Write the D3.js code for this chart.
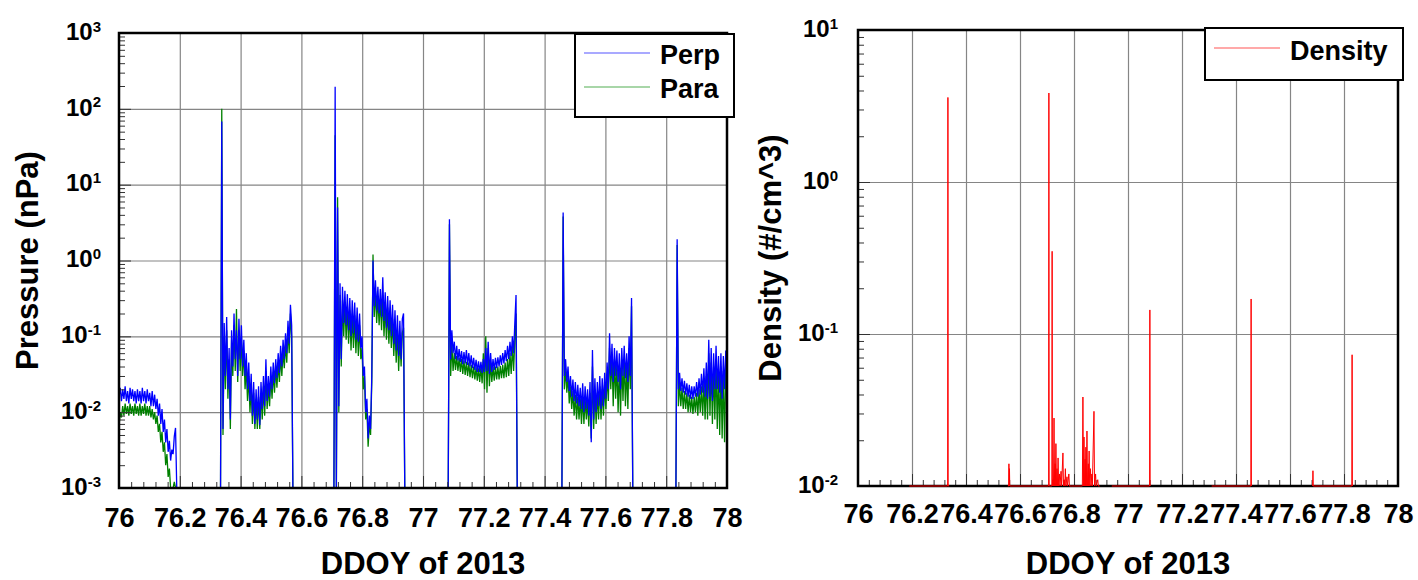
<!DOCTYPE html>
<html>
<head>
<meta charset="utf-8">
<script src="https://cdn.jsdelivr.net/npm/d3@7"></script>
<style>
  body { margin: 0; background: #fff; }
  svg { font-family: "Liberation Sans", Arial, sans-serif; font-weight: bold; }
  .grid line { stroke: #858585; stroke-width: 1.2; }
  .grid path, .ticks path, .labels path, .labels line { display: none; }
  .ticks line { stroke: #333; stroke-width: 1; }
  .xlab text { font-size: 27px; font-family: "Liberation Sans", Arial, sans-serif; }
  .ylab text { font-size: 24px; font-family: "Liberation Sans", Arial, sans-serif; }
</style>
</head>
<body>
<svg id="chart" width="1418" height="580"></svg>
<script>
// tick labels
const xTickLabels = ["76", "76.2", "76.4", "76.6", "76.8", "77", "77.2", "77.4", "77.6", "77.8", "78"];
const pressDecades = [1e-3, 1e-2, 1e-1, 1, 10, 100, 1000];
const densDecades = [1e-2, 1e-1, 1, 10];

// pressure data: six sampled intervals (day of year), evenly sampled inside each
const segStart = [76.000, 76.334, 76.707, 77.083, 77.457, 77.832];
const segEnd   = [76.190, 76.572, 76.940, 77.310, 77.690, 78.000];

// Perp pressure (nPa), 0 = no data / below range
const perp = [
  [0.016, 0.021, 0.014, 0.020, 0.015, 0.022, 0.014, 0.019, 0.013, 0.021, 0.015, 0.020, 0.014, 0.019, 0.013, 0.020,
   0.014, 0.019, 0.013, 0.021, 0.014, 0.019, 0.013, 0.020, 0.014, 0.018, 0.012, 0.019, 0.012, 0.017, 0.011, 0.015,
   0.009, 0.013, 0.007, 0.011, 0.0055, 0.008, 0.004, 0.006, 0.003, 0.0042, 0.0023, 0.0032, 0.0028, 0.0048, 0.0062, 0],
  [0, 68, 0.006, 0.15, 0.03, 0.18, 0.02, 0.07, 0.008, 0.12, 0.04, 0.2, 0.05, 0.12, 0.03, 0.17,
   0.05, 0.14, 0.04, 0.09, 0.03, 0.06, 0.02, 0.045, 0.014, 0.032, 0.009, 0.025, 0.007, 0.02, 0.008, 0.022,
   0.0068, 0.025, 0.011, 0.03, 0.012, 0.05, 0.014, 0.03, 0.016, 0.04, 0.02, 0.045, 0.024, 0.05, 0.028, 0.06,
   0.033, 0.075, 0.04, 0.09, 0.05, 0.11, 0.06, 0.16, 0.08, 0.26, 0.14, 0],
  [0, 195, 0, 5, 0.012, 0.5, 0.05, 0.45, 0.15, 0.4, 0.14, 0.36, 0.12, 0.32, 0.1, 0.3,
   0.11, 0.28, 0.09, 0.24, 0.085, 0.2, 0.07, 0.1, 0.03, 0.04, 0.01, 0.015, 0.0045, 0.009, 0.006, 0.03,
   1.0, 0.25, 0.55, 0.22, 0.45, 0.2, 0.42, 0.18, 0.6, 0.16, 0.38, 0.13, 0.34, 0.12, 0.3, 0.1,
   0.26, 0.08, 0.22, 0.065, 0.19, 0.055, 0.16, 0.05, 0.17, 0.2, 0],
  [0, 3.5, 0.05, 0.12, 0.06, 0.085, 0.05, 0.075, 0.048, 0.068, 0.046, 0.064, 0.043, 0.062, 0.044, 0.066,
   0.042, 0.06, 0.04, 0.056, 0.038, 0.052, 0.036, 0.049, 0.034, 0.047, 0.034, 0.046, 0.033, 0.05, 0.034, 0.07,
   0.035, 0.085, 0.032, 0.06, 0.034, 0.05, 0.036, 0.052, 0.038, 0.053, 0.04, 0.056, 0.042, 0.06, 0.044, 0.066,
   0.047, 0.075, 0.05, 0.085, 0.055, 0.1, 0.06, 0.15, 0.35, 0],
  [0, 4.3, 0.03, 0.05, 0.025, 0.04, 0.019, 0.03, 0.016, 0.027, 0.014, 0.025, 0.013, 0.023, 0.012, 0.021,
   0.011, 0.024, 0.01, 0.022, 0.011, 0.02, 0.009, 0.025, 0.004, 0.066, 0.008, 0.028, 0.01, 0.025, 0.012, 0.03,
   0.011, 0.028, 0.012, 0.033, 0.015, 0.045, 0.02, 0.11, 0.03, 0.08, 0.025, 0.07, 0.03, 0.065, 0.025, 0.06,
   0.02, 0.07, 0.03, 0.075, 0.028, 0.06, 0.025, 0.1, 0.03, 0.32, 0],
  [0, 1.9, 0.02, 0.033, 0.019, 0.028, 0.018, 0.026, 0.017, 0.024, 0.016, 0.023, 0.015, 0.022, 0.015, 0.022,
   0.016, 0.025, 0.016, 0.028, 0.017, 0.032, 0.018, 0.038, 0.016, 0.045, 0.015, 0.09, 0.016, 0.07, 0.014, 0.06,
   0.02, 0.075, 0.02, 0.055, 0.018, 0.06, 0.015, 0.055, 0.02, 0.065, 0.03]
];

// Para pressure (nPa)
const para = [
  [0.0065, 0.010, 0.0085, 0.012, 0.009, 0.013, 0.0095, 0.012, 0.009, 0.013, 0.0095, 0.012, 0.009, 0.013, 0.0095, 0.012,
   0.009, 0.013, 0.009, 0.012, 0.0095, 0.013, 0.009, 0.012, 0.009, 0.012, 0.0085, 0.011, 0.008, 0.010, 0.007, 0.009,
   0.0055, 0.007, 0.004, 0.0055, 0.003, 0.004, 0.002, 0.0028, 0.0014, 0.0018, 0.0009, 0.0008, 0.0009, 0.0012, 0.0008, 0],
  [0, 100, 0.005, 0.1, 0.02, 0.12, 0.015, 0.05, 0.006, 0.09, 0.03, 0.14, 0.035, 0.23, 0.025, 0.12,
   0.035, 0.1, 0.03, 0.065, 0.02, 0.04, 0.014, 0.03, 0.01, 0.022, 0.007, 0.018, 0.006, 0.015, 0.006, 0.016,
   0.006, 0.018, 0.008, 0.022, 0.009, 0.035, 0.011, 0.022, 0.012, 0.03, 0.015, 0.034, 0.018, 0.038, 0.021, 0.045,
   0.025, 0.055, 0.03, 0.065, 0.038, 0.08, 0.045, 0.12, 0.06, 0.2, 0.1, 0],
  [0, 45, 0, 6.8, 0.01, 0.35, 0.04, 0.3, 0.1, 0.28, 0.09, 0.25, 0.08, 0.22, 0.065, 0.2,
   0.07, 0.19, 0.06, 0.16, 0.055, 0.14, 0.05, 0.07, 0.02, 0.03, 0.008, 0.011, 0.0035, 0.007, 0.005, 0.025,
   1.2, 0.18, 0.4, 0.15, 0.32, 0.14, 0.3, 0.12, 0.35, 0.1, 0.26, 0.09, 0.24, 0.08, 0.2, 0.07,
   0.17, 0.055, 0.14, 0.045, 0.12, 0.035, 0.1, 0.04, 0.11, 0.13, 0],
  [0, 3.0, 0.03, 0.08, 0.035, 0.06, 0.036, 0.055, 0.035, 0.052, 0.034, 0.05, 0.032, 0.048, 0.031, 0.046,
   0.03, 0.045, 0.029, 0.042, 0.028, 0.04, 0.027, 0.039, 0.026, 0.038, 0.025, 0.04, 0.024, 0.06, 0.02, 0.1,
   0.018, 0.07, 0.022, 0.045, 0.025, 0.04, 0.026, 0.04, 0.027, 0.04, 0.027, 0.041, 0.028, 0.042, 0.028, 0.045,
   0.029, 0.05, 0.03, 0.06, 0.032, 0.075, 0.035, 0.09, 0.2, 0],
  [0, 3.8, 0.02, 0.038, 0.018, 0.03, 0.013, 0.022, 0.011, 0.019, 0.009, 0.017, 0.008, 0.016, 0.008, 0.015,
   0.007, 0.016, 0.007, 0.015, 0.008, 0.014, 0.0065, 0.018, 0.0045, 0.04, 0.006, 0.02, 0.007, 0.018, 0.008, 0.022,
   0.008, 0.02, 0.009, 0.024, 0.011, 0.032, 0.014, 0.07, 0.02, 0.055, 0.012, 0.05, 0.015, 0.045, 0.01, 0.04,
   0.009, 0.05, 0.014, 0.05, 0.012, 0.04, 0.011, 0.07, 0.02, 0.25, 0],
  [0, 1.6, 0.012, 0.025, 0.012, 0.021, 0.011, 0.019, 0.011, 0.018, 0.01, 0.017, 0.01, 0.016, 0.0095, 0.016,
   0.01, 0.018, 0.009, 0.02, 0.01, 0.022, 0.009, 0.025, 0.008, 0.03, 0.008, 0.06, 0.009, 0.045, 0.007, 0.04,
   0.008, 0.045, 0.006, 0.035, 0.005, 0.04, 0.0045, 0.035, 0.004, 0.04, 0.012]
];

// Density (#/cm^3), null = break in the trace, 0.01 = floor
const densTime = [
  76.190, 76.332, 76.333, 76.334, 76.338, null,
  76.555, 76.558, 76.559, 76.560, 76.561, 76.562, 76.706, 76.707, 76.708, 76.718, 76.719, 76.720,
  76.722, 76.724, 76.726, 76.728, 76.730, 76.731, 76.733, 76.735, 76.737, 76.739, 76.741, 76.743,
  76.746, 76.748, 76.752, 76.754, 76.759, 76.761, 76.764, 76.766, 76.768, 76.770, 76.774, 76.776,
  76.781, 76.783, 76.790, 76.831, 76.833, 76.835, 76.837, 76.839, 76.841, 76.842, 76.844, 76.846,
  76.848, 76.850, 76.853, 76.854, 76.856, 76.858, 76.861, 76.863, 76.866, 76.868, 76.874, 76.876,
  76.880, 76.882, 76.888, 76.890, 76.895, null,
  76.940, 77.080, 77.081, 77.082, null,
  77.310, 77.455, 77.456, 77.457, null,
  77.684, 77.685, 77.686, 77.829, 77.830, 77.831
];
const densValue = [
  0.01, 0.01, 3.6, 0.01, 0.01, null,
  0.01, 0.01, 0.014, 0.01, 0.013, 0.01, 0.01, 3.85, 0.01, 0.01, 0.35, 0.01,
  0.011, 0.01, 0.028, 0.01, 0.014, 0.01, 0.019, 0.01, 0.013, 0.01, 0.0153, 0.01,
  0.012, 0.01, 0.0125, 0.01, 0.0165, 0.01, 0.011, 0.01, 0.013, 0.01, 0.0115, 0.01,
  0.012, 0.01, 0.01, 0.01, 0.0385, 0.01, 0.021, 0.01, 0.015, 0.01, 0.018, 0.01,
  0.023, 0.01, 0.014, 0.01, 0.017, 0.01, 0.013, 0.01, 0.012, 0.01, 0.031, 0.01,
  0.012, 0.01, 0.011, 0.01, 0.01, null,
  0.01, 0.01, 0.144, 0.01, null,
  0.01, 0.01, 0.17, 0.01, null,
  0.01, 0.0126, 0.01, 0.01, 0.073, 0.01
];

const svg = d3.select("#chart");

const leftBox = { x0: 119, x1: 727, y0: 33, y1: 488 },
      rightBox = { x0: 858, x1: 1398, y0: 30, y1: 486 };

function makePanel(box, yDomain, decades, padX, padY) {
    const x = d3.scaleLinear().domain([76, 78]).range([box.x0, box.x1]);
    const y = d3.scaleLog().domain(yDomain).range([box.y1, box.y0]).clamp(true);
    const w = box.x1 - box.x0, h = box.y1 - box.y0;
    const majorX = xTickLabels.map(Number);
    const minorX = d3.range(0, 51).map(i => 76 + i * 0.04).filter((v, i) => i % 5 !== 0);
    const minorY = decades.slice(0, -1).flatMap(d => d3.range(2, 10).map(m => d * m));

    svg.append("g").attr("class", "grid")
       .attr("transform", `translate(0,${box.y1})`)
       .call(d3.axisBottom(x).tickValues(majorX.slice(1, -1)).tickSize(-h).tickFormat(""));
    svg.append("g").attr("class", "grid")
       .attr("transform", `translate(${box.x0},0)`)
       .call(d3.axisLeft(y).tickValues(decades.slice(1, -1)).tickSize(-w).tickFormat(""));

    const ticks = svg.append("g").attr("class", "tickLayer");
    ticks.append("g").attr("class", "ticks")
       .attr("transform", `translate(0,${box.y1})`)
       .call(d3.axisBottom(x).tickValues(minorX).tickSize(-6).tickFormat(""));
    ticks.append("g").attr("class", "ticks")
       .attr("transform", `translate(0,${box.y1})`)
       .call(d3.axisBottom(x).tickValues(majorX).tickSize(-12).tickFormat(""));
    ticks.append("g").attr("class", "ticks")
       .attr("transform", `translate(${box.x0},0)`)
       .call(d3.axisLeft(y).tickValues(minorY).tickSize(-6).tickFormat(""));
    ticks.append("g").attr("class", "ticks")
       .attr("transform", `translate(${box.x0},0)`)
       .call(d3.axisLeft(y).tickValues(decades).tickSize(-12).tickFormat(""));

    svg.append("g").attr("class", "labels xlab")
       .attr("transform", `translate(0,${box.y1})`)
       .call(d3.axisBottom(x).tickValues(majorX).tickSize(0).tickPadding(padX)
                .tickFormat((d, i) => xTickLabels[i]));

    svg.append("g").attr("class", "labels ylab")
       .attr("transform", `translate(${box.x0},0)`)
       .call(d3.axisLeft(y).tickValues(decades).tickSize(0).tickPadding(padY).tickFormat(""))
       .selectAll("text")
       .attr("dy", "0.26em")
       .each(function(d) {
           const t = d3.select(this);
           t.text("10");
           t.append("tspan").attr("dy", "-0.55em").style("font-size", "15px")
            .text(Math.round(Math.log10(d)));
       });

    return { x, y, w, h, ticks };
}

function frame(box) {
    svg.append("rect")
       .attr("x", box.x0).attr("y", box.y0)
       .attr("width", box.x1 - box.x0).attr("height", box.y1 - box.y0)
       .attr("fill", "none").attr("stroke", "#000").attr("stroke-width", 2.5);
}

// ---- left panel: pressure ----
const P = makePanel(leftBox, [1e-3, 1e3], pressDecades, 20, 18);

const toPoints = vals => segStart.flatMap((s, k) =>
    vals[k].map((v, i) => [s + i * (segEnd[k] - s) / (vals[k].length - 1), v]));

const lineP = d3.line()
                .x(d => P.x(d[0]))
                .y(d => d[1] > 0 ? P.y(d[1]) : leftBox.y1);

svg.insert("path", ".tickLayer")
   .datum(toPoints(para))
   .attr("d", lineP)
   .attr("fill", "none")
   .style("stroke", "#008000")
   .style("stroke-width", 1.3);

svg.insert("path", ".tickLayer")
   .datum(toPoints(perp))
   .attr("d", lineP)
   .attr("fill", "none")
   .style("stroke", "#0000ff")
   .style("stroke-width", 1.3);

frame(leftBox);

svg.append("text")
   .attr("transform", `translate(38,${(leftBox.y0 + leftBox.y1) / 2}) rotate(-90)`)
   .attr("text-anchor", "middle")
   .style("font-size", "31px")
   .text("Pressure (nPa)");

svg.append("text")
   .attr("x", (leftBox.x0 + leftBox.x1) / 2).attr("y", 574)
   .attr("text-anchor", "middle")
   .style("font-size", "31px")
   .text("DDOY of 2013");

const legL = svg.append("g");
legL.append("rect").attr("x", 575).attr("y", 34).attr("width", 159).attr("height", 83)
    .attr("fill", "#fff").attr("stroke", "#000").attr("stroke-width", 2);
[["Perp", "#a9a9ff", 53], ["Para", "#a8d6a8", 87]].forEach(([name, col, yy]) => {
    legL.append("line").attr("x1", 584).attr("x2", 650).attr("y1", yy).attr("y2", yy)
        .style("stroke", col).style("stroke-width", 2);
    legL.append("text").attr("x", 660).attr("y", yy + 11).style("font-size", "27px").text(name);
});

// ---- right panel: density ----
const D = makePanel(rightBox, [1e-2, 1e1], densDecades, 18, 20);
frame(rightBox);

const lineD = d3.line()
                .defined((d, i) => densValue[i] != null)
                .x(d => D.x(d))
                .y((d, i) => D.y(densValue[i]));

svg.append("path")
   .datum(densTime)
   .attr("d", lineD)
   .attr("fill", "none")
   .style("stroke", "#ff0000")
   .style("stroke-width", 1);

svg.append("text")
   .attr("transform", `translate(781,${(rightBox.y0 + rightBox.y1) / 2}) rotate(-90)`)
   .attr("text-anchor", "middle")
   .style("font-size", "31px")
   .text("Density (#/cm^3)");

svg.append("text")
   .attr("x", (rightBox.x0 + rightBox.x1) / 2).attr("y", 574)
   .attr("text-anchor", "middle")
   .style("font-size", "31px")
   .text("DDOY of 2013");

const legR = svg.append("g");
legR.append("rect").attr("x", 1205).attr("y", 28).attr("width", 198).attr("height", 52)
    .attr("fill", "#fff").attr("stroke", "#000").attr("stroke-width", 2);
legR.append("line").attr("x1", 1214).attr("x2", 1280).attr("y1", 48).attr("y2", 48)
    .style("stroke", "#ff8c8c").style("stroke-width", 1.5);
legR.append("text").attr("x", 1290).attr("y", 60).style("font-size", "27px").text("Density");
</script>
</body>
</html>
